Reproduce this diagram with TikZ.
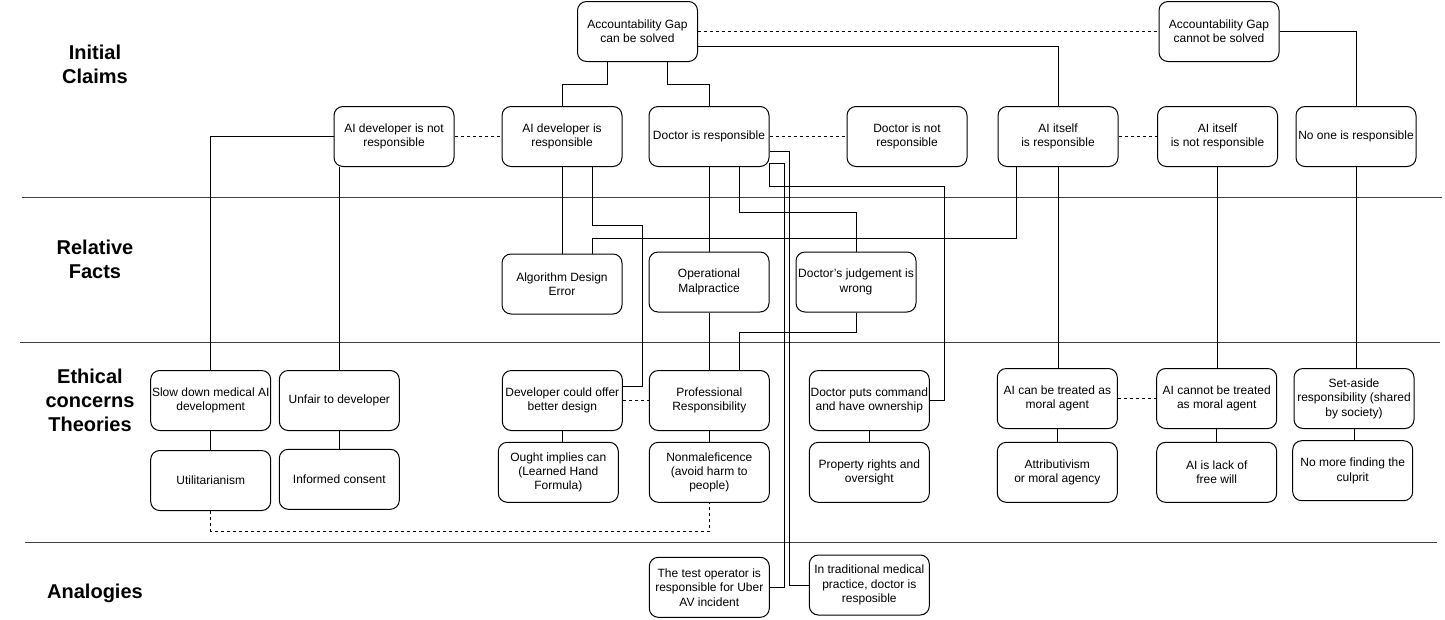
\documentclass[tikz,border=0pt]{standalone}
\usepackage{fontspec}
\setmainfont{Liberation Sans}
\usetikzlibrary{calc}
\begin{document}
\begin{tikzpicture}[x=1pt,y=-1pt,
  box/.style={draw,rounded corners=9pt,minimum width=120pt,minimum height=60pt,align=center,inner sep=1pt,font=\fontsize{12}{14.4}\selectfont,line width=1pt},
  lbl/.style={align=center,font=\fontsize{20}{24}\selectfont\bfseries},
  conn/.style={draw,line width=1pt},
  dconn/.style={draw,line width=1pt,dash pattern=on 3pt off 3pt},
  sep/.style={draw,line width=1pt,black!75}]
\useasboundingbox (0,0) rectangle (1445,619);
% separators
\coordinate (s1a) at (22,197); \coordinate (s1b) at (1442,197);
\coordinate (s2a) at (20,342.5); \coordinate (s2b) at (1440,342.5);
\coordinate (s3a) at (25,542); \coordinate (s3b) at (1437,542);
\path[sep] (s1a) -- (s1b);
\path[sep] (s2a) -- (s2b);
\path[sep] (s3a) -- (s3b);
% section labels
\node[lbl] (l1) at (95,64) {Initial\\Claims};
\node[lbl] (l2) at (95,259) {Relative\\Facts};
\node[lbl] (l3) at (90,400) {Ethical\\concerns\\Theories};
\node[lbl] (l4) at (95,593) {Analogies};
% row 1
\node[box] (ags) at (637.5,31.5) {Accountability Gap\\can be solved};
\node[box] (agc) at (1219,31.5) {Accountability Gap\\cannot be solved};
% row 2
\node[box] (adn) at (394,136.5) {AI developer is not\\responsible};
\node[box] (ad) at (562,136.5) {AI developer is\\responsible};
\node[box] (dr) at (709,136.5) {Doctor is responsible};
\node[box] (dn) at (907,136.5) {Doctor is not\\responsible};
\node[box] (ai) at (1058,136.5) {AI itself\\is responsible};
\node[box] (ain) at (1217.5,136.5) {AI itself\\is not responsible};
\node[box] (no) at (1356,136.5) {No one is responsible};
% row 3
\node[box] (ade) at (562,284) {Algorithm Design\\Error};
\node[box] (om) at (709,282) {Operational\\Malpractice};
\node[box] (dj) at (856,282) {Doctor's judgement is\\wrong};
% row 4
\node[box] (sd) at (210.7,400.5) {Slow down medical AI\\development};
\node[box] (uf) at (339.3,400.5) {Unfair to developer};
\node[box] (ut) at (210.7,480.5) {Utilitarianism};
\node[box] (ic) at (339.3,479.3) {Informed consent};
\node[box] (dc) at (562.3,400.5) {Developer could offer\\better design};
\node[box] (oi) at (558.3,472.3) {Ought implies can\\(Learned Hand\\Formula)};
\node[box] (pr) at (709.3,400.5) {Professional\\Responsibility};
\node[box] (nm) at (709.3,472.3) {Nonmaleficence\\(avoid harm to\\people)};
\node[box] (dp) at (869.3,400.5) {Doctor puts command\\and have ownership};
\node[box] (prs) at (869.3,472.3) {Property rights and\\oversight};
\node[box] (ac) at (1057.3,398.5) {AI can be treated as\\moral agent};
\node[box] (at) at (1057.3,472.3) {Attributivism\\or moral agency};
\node[box] (acn) at (1216.7,398.5) {AI cannot be treated\\as moral agent};
\node[box] (fw) at (1216.7,472.3) {AI is lack of\\free will};
\node[box] (sa) at (1354,398.5) {Set-aside\\responsibility (shared\\by society)};
\node[box] (nf) at (1352.7,470.7) {No more finding the\\culprit};
% row 5
\node[box] (to) at (709.3,587.3) {The test operator is\\responsible for Uber\\AV incident};
\node[box] (tr) at (869.3,585) {In traditional medical\\practice, doctor is\\resposible};
% connectors
\path[conn] ([xshift=-30pt]ags.south) -- ++(0,22.5) -| (ad.north);
\path[conn] ([xshift=30pt]ags.south) -- ++(0,22.5) -| (dr.north);
\path[dconn] (ags.east) -- (agc.west);
\path[conn] ([yshift=-15pt]ags.east) -| (ai.north);
\path[conn] (agc.east) -| (no.north);
\path[dconn] (adn.east) -- (ad.west);
\path[dconn] (dr.east) -- (dn.west);
\path[dconn] (ai.east) -- (ain.west);
\path[conn] (adn.west) -| (sd.north);
\path[conn] (uf.north |- adn.south) -- (uf.north);
\path[conn] (ad.south) -- (ade.north);
\path[conn] ([xshift=30pt]ad.south) -- ++(0,58) -| (642,386.7) -- ([yshift=13.8pt]dc.east);
\path[conn] ([xshift=-42pt]ai.south) -- ++(0,71.2) -| ([xshift=30pt]ade.north);
\path[conn] (dr.south) -- (om.north);
\path[conn] ([xshift=30pt]dr.south) -- ++(0,45.2) -| (dj.north);
\path[conn] ([yshift=-15pt]dr.east) -- ++(20,0) |- (tr.west);
\path[conn] ([yshift=-26.8pt]dr.east) -- ++(15,0) |- (to.east);
\path[conn] ([yshift=-26.8pt]dr.east) |- (944,186) |- (dp.east);
\path[conn] (dj.south) -- ++(0,20.3) -| ([xshift=30pt]pr.north);
\path[conn] (om.south) -- (om.south |- pr.north);
\path[conn] (sd.south) -- (ut.north);
\path[conn] (uf.south) -- (ic.north);
\path[conn] (dc.south) -- (dc.south |- oi.north);
\path[dconn] (dc.east) -- (pr.west);
\path[conn] (pr.south) -- (nm.north);
\path[conn] (dp.south) -- (prs.north);
\path[dconn] (ut.south) -- ++(0,20.2) -| (nm.south);
\path[conn] (ai.south) -- (ai.south |- ac.north);
\path[conn] (ain.south) -- (ain.south |- acn.north);
\path[conn] (no.south) -- (no.south |- sa.north);
\path[dconn] (ac.east) -- (acn.west);
\path[conn] (ac.south) -- (at.north);
\path[conn] (acn.south) -- (fw.north);
\path[conn] (sa.south) -- (sa.south |- nf.north);
\end{tikzpicture}
\end{document}
